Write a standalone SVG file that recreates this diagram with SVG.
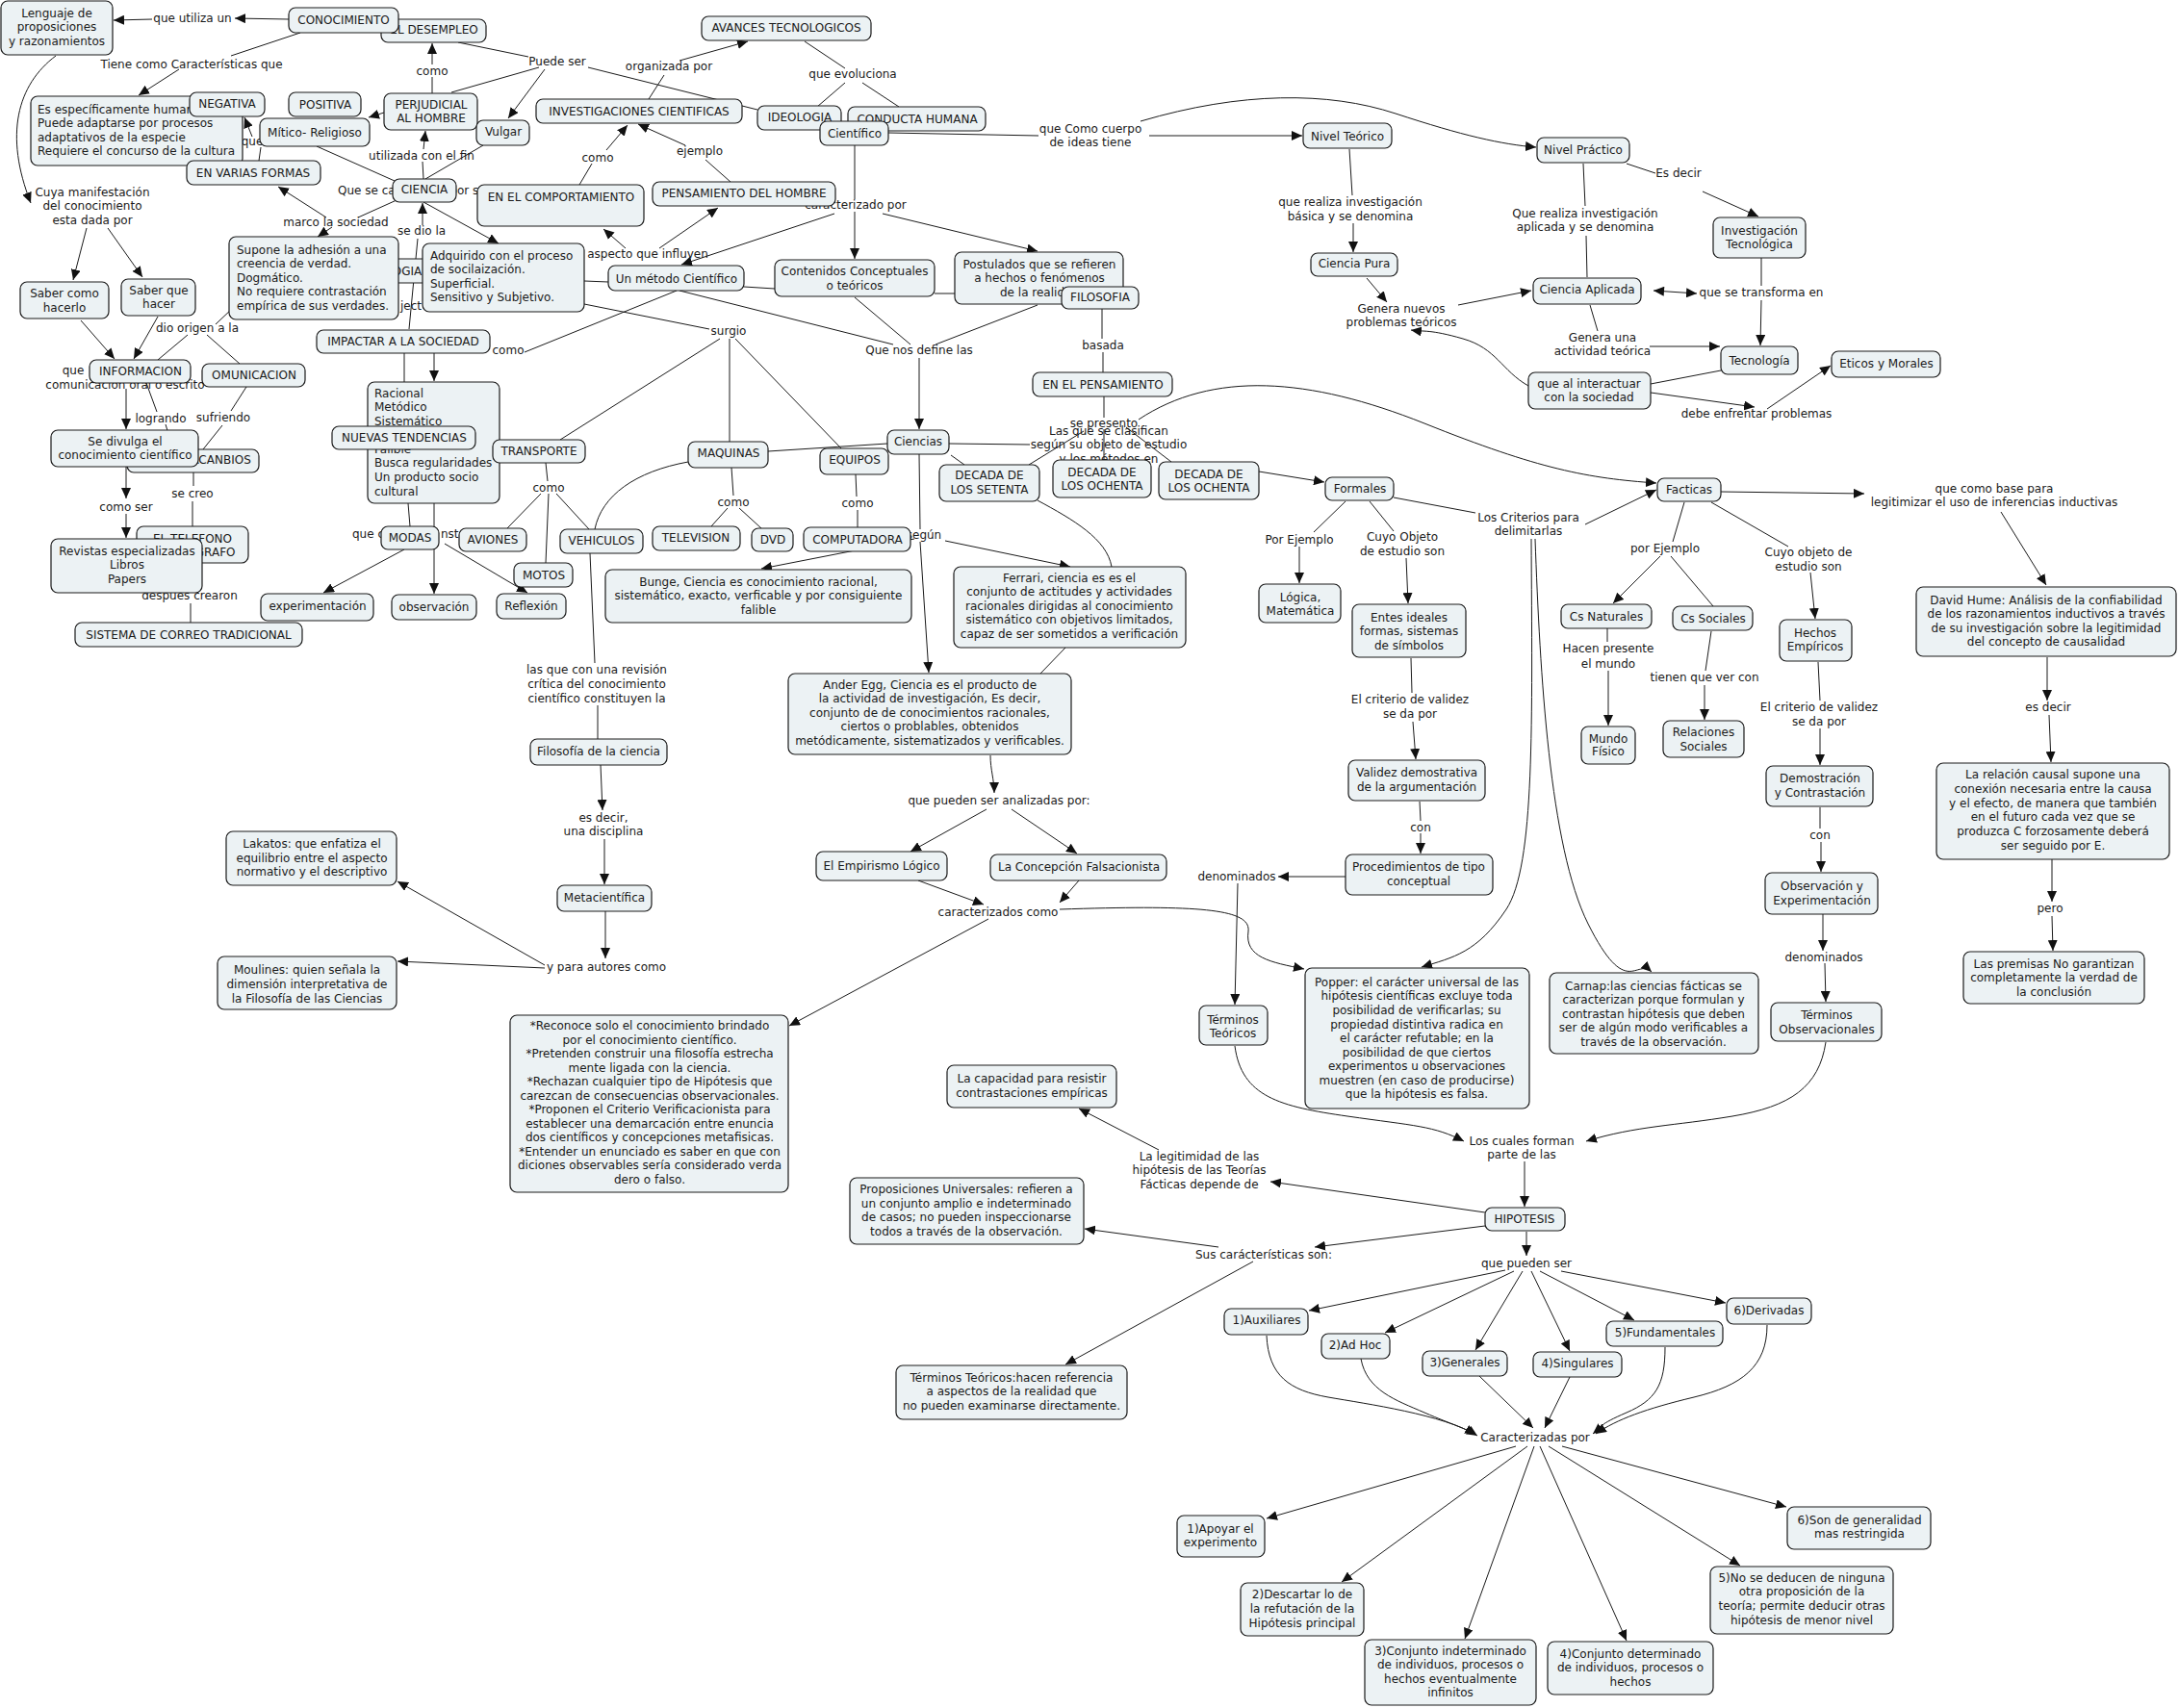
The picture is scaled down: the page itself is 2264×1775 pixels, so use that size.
<svg xmlns="http://www.w3.org/2000/svg" width="2264" height="1775" viewBox="0 0 2264 1775">
<defs>
<marker id="ah" markerUnits="userSpaceOnUse" markerWidth="12" markerHeight="10" refX="11" refY="5" orient="auto"><path d="M0,0 L11,5 L0,10 z" fill="#111"/></marker>
<marker id="as" markerUnits="userSpaceOnUse" markerWidth="12" markerHeight="10" refX="0" refY="5" orient="auto"><path d="M11,0 L0,5 L11,10 z" fill="#111"/></marker>
</defs>
<style>
text{font-family:"DejaVu Sans",Verdana,sans-serif;font-size:12px;fill:#1a1a1a}
.n{fill:#ecf2f4;stroke:#1a1a1a;stroke-width:1.2}
.c{fill:none;stroke:#1a1a1a;stroke-width:1}
.a{marker-end:url(#ah)}
.m{text-anchor:middle}
</style>
<rect width="2264" height="1775" fill="#fff"/>
<g id="connectors">
<path class="c a" d="M300,20 L244,19"/>
<path class="c a" d="M158,20 L118,21"/>
<path class="c" d="M312,34 L240,58"/>
<path class="c a" d="M186,72 L144,99"/>
<path class="c a" d="M58,58 C 18,88 4,140 32,211"/>
<path class="c a" d="M90,237 L76,291"/>
<path class="c a" d="M112,237 L148,288"/>
<path class="c a" d="M84,333 L119,373"/>
<path class="c a" d="M164,329 L139,373"/>
<path class="c" d="M195,348 L164,374"/>
<path class="c" d="M215,348 L249,378"/>
<path class="c" d="M224,337 L242,320"/>
<path class="c a" d="M131,404 L131,446"/>
<path class="c" d="M152,398 L163,428"/>
<path class="c" d="M172,441 L180,467"/>
<path class="c" d="M256,402 L240,427"/>
<path class="c" d="M231,442 L211,467"/>
<path class="c" d="M201,491 L201,505"/>
<path class="c" d="M200,521 L200,547"/>
<path class="c a" d="M131,485 L131,518"/>
<path class="c a" d="M131,534 L131,559"/>
<path class="c" d="M200,585 L198,612"/>
<path class="c" d="M198,627 L198,647"/>
<path class="c" d="M440,186 L439,168"/>
<path class="c a" d="M440,155 L442,136"/>
<path class="c" d="M449,97 L449,80"/>
<path class="c a" d="M449,67 L449,45"/>
<path class="c a" d="M399,117 L383,122"/>
<path class="c" d="M329,152 L410,188"/>
<path class="c" d="M502,151 L442,186"/>
<path class="c" d="M476,44 L549,59"/>
<path class="c" d="M469,96 L560,70"/>
<path class="c a" d="M566,72 L528,123"/>
<path class="c" d="M611,70 L787,114"/>
<path class="c" d="M269,167 L271,153"/>
<path class="c a" d="M262,142 L254,122"/>
<path class="c" d="M412,208 L372,226"/>
<path class="c a" d="M345,236 L330,246"/>
<path class="c a" d="M339,226 L289,194"/>
<path class="c a" d="M440,210 L518,253"/>
<path class="c a" d="M439,234 L439,211"/>
<path class="c" d="M434,248 L425,342"/>
<path class="c" d="M420,367 L420,397"/>
<path class="c" d="M424,523 L426,547"/>
<path class="c a" d="M451,367 L451,396"/>
<path class="c a" d="M451,523 L451,617"/>
<path class="c a" d="M420,571 L336,616"/>
<path class="c a" d="M462,565 L548,616"/>
<path class="c" d="M545,366 L703,302"/>
<path class="c" d="M674,103 L690,78"/>
<path class="c a" d="M706,63 L777,43"/>
<path class="c" d="M836,43 L878,71"/>
<path class="c" d="M878,86 L849,111"/>
<path class="c" d="M896,86 L934,111"/>
<path class="c" d="M602,192 L615,170"/>
<path class="c a" d="M630,156 L652,130"/>
<path class="c" d="M759,189 L733,166"/>
<path class="c a" d="M712,151 L663,129"/>
<path class="c" d="M888,151 L888,207"/>
<path class="c a" d="M888,220 L888,269"/>
<path class="c a" d="M867,222 L708,275"/>
<path class="c a" d="M917,222 L1078,261"/>
<path class="c a" d="M650,258 L627,238"/>
<path class="c a" d="M685,258 L746,216"/>
<path class="c" d="M607,292 L632,293"/>
<path class="c" d="M773,298 L805,300"/>
<path class="c" d="M971,305 L992,305"/>
<path class="c" d="M607,316 L737,342"/>
<path class="c" d="M748,352 L582,457"/>
<path class="c" d="M758,352 L758,459"/>
<path class="c" d="M764,352 L874,466"/>
<path class="c" d="M706,302 L928,358"/>
<path class="c" d="M888,309 L946,358"/>
<path class="c" d="M1078,317 L972,358"/>
<path class="c a" d="M955,372 L955,446"/>
<path class="c" d="M798,469 L922,461"/>
<path class="c" d="M760,486 L762,515"/>
<path class="c" d="M756,528 L739,547"/>
<path class="c" d="M768,528 L791,549"/>
<path class="c" d="M889,493 L890,516"/>
<path class="c" d="M891,530 L891,548"/>
<path class="c" d="M567,481 L569,500"/>
<path class="c" d="M562,513 L527,549"/>
<path class="c" d="M578,513 L612,550"/>
<path class="c" d="M570,513 L567,585"/>
<path class="c" d="M715,480 C 660,490 625,515 618,550"/>
<path class="c" d="M613,575 L618,689"/>
<path class="c" d="M955,472 L956,550"/>
<path class="c a" d="M950,560 L791,591"/>
<path class="c a" d="M982,562 L1112,589"/>
<path class="c a" d="M956,563 L965,699"/>
<path class="c" d="M1078,520 C 1115,540 1150,560 1155,589"/>
<path class="c" d="M1107,673 L1081,700"/>
<path class="c" d="M988,473 L1002,483"/>
<path class="c" d="M986,461 L1070,462"/>
<path class="c" d="M1069,483 L1126,448"/>
<path class="c" d="M1170,444 L1217,480"/>
<path class="c" d="M1145,321 L1145,352"/>
<path class="c" d="M1146,366 L1146,387"/>
<path class="c" d="M1147,412 L1147,434"/>
<path class="c" d="M1147,446 L1147,478"/>
<path class="c a" d="M1183,436 C 1260,385 1360,392 1480,440 S 1650,497 1721,502"/>
<path class="c a" d="M1308,490 L1376,501"/>
<path class="c" d="M1398,521 L1365,553"/>
<path class="c a" d="M1350,568 L1350,606"/>
<path class="c" d="M1423,521 L1448,552"/>
<path class="c a" d="M1461,580 L1463,627"/>
<path class="c" d="M1448,517 L1533,533"/>
<path class="c a" d="M1647,545 L1721,509"/>
<path class="c a" d="M1591,560 C 1592,750 1595,900 1565,945 S 1510,995 1477,1005"/>
<path class="c a" d="M1595,560 C 1600,700 1610,880 1650,960 S 1700,995 1716,1010"/>
<path class="c" d="M1466,684 L1467,720"/>
<path class="c a" d="M1468,750 L1471,789"/>
<path class="c" d="M1475,833 L1476,853"/>
<path class="c a" d="M1476,866 L1476,887"/>
<path class="c a" d="M1398,911 L1328,911"/>
<path class="c a" d="M1286,918 L1283,1044"/>
<path class="c a" d="M1283,1087 C 1290,1140 1330,1150 1400,1160 S 1490,1170 1521,1186"/>
<path class="c a" d="M954,915 L1022,940"/>
<path class="c a" d="M1121,915 L1101,938"/>
<path class="c a" d="M1101,945 C 1250,940 1300,945 1297,968 C 1293,995 1320,1000 1355,1007"/>
<path class="c a" d="M1027,955 L820,1066"/>
<path class="c a" d="M1029,785 C 1029,800 1033,810 1033,824"/>
<path class="c a" d="M1025,841 L946,885"/>
<path class="c a" d="M1051,841 L1119,887"/>
<path class="c" d="M621,733 L621,768"/>
<path class="c a" d="M624,795 L626,842"/>
<path class="c a" d="M628,872 L628,919"/>
<path class="c a" d="M629,947 L629,996"/>
<path class="c a" d="M566,1003 L413,916"/>
<path class="c a" d="M566,1006 L413,999"/>
<path class="c" d="M923,138 L1079,141"/>
<path class="c a" d="M1194,141 L1353,141"/>
<path class="c a" d="M1185,126 C 1290,95 1380,95 1450,118 S 1560,150 1596,153"/>
<path class="c" d="M1402,155 L1405,203"/>
<path class="c a" d="M1406,232 L1406,262"/>
<path class="c a" d="M1420,289 L1441,314"/>
<path class="c a" d="M1515,317 L1591,302"/>
<path class="c" d="M1645,170 L1647,214"/>
<path class="c" d="M1648,245 L1649,288"/>
<path class="c" d="M1690,170 L1720,180"/>
<path class="c a" d="M1769,199 L1827,225"/>
<path class="c a" d="M1718,302 L1763,305" style="marker-start:url(#as)"/>
<path class="c" d="M1830,268 L1830,297"/>
<path class="c a" d="M1830,312 L1829,359"/>
<path class="c" d="M1652,317 L1660,344"/>
<path class="c a" d="M1714,360 L1787,360"/>
<path class="c a" d="M1588,401 C 1560,385 1555,362 1520,352 S 1480,345 1466,343"/>
<path class="c" d="M1715,399 L1788,385"/>
<path class="c a" d="M1715,408 L1823,423"/>
<path class="c a" d="M1836,425 L1902,380"/>
<path class="c a" d="M1788,511 L1937,513"/>
<path class="c a" d="M2079,532 L2126,608"/>
<path class="c" d="M1750,522 L1738,563"/>
<path class="c a" d="M1725,578 L1676,627"/>
<path class="c" d="M1736,578 L1780,630"/>
<path class="c" d="M1778,522 L1858,568"/>
<path class="c a" d="M1881,595 L1886,643"/>
<path class="c" d="M1670,653 L1670,667"/>
<path class="c a" d="M1671,697 L1671,754"/>
<path class="c" d="M1778,656 L1772,697"/>
<path class="c a" d="M1771,712 L1771,748"/>
<path class="c" d="M1889,688 L1891,728"/>
<path class="c a" d="M1891,757 L1891,795"/>
<path class="c" d="M1891,839 L1891,861"/>
<path class="c a" d="M1892,875 L1892,906"/>
<path class="c a" d="M1894,950 L1894,988"/>
<path class="c a" d="M1896,1001 L1897,1041"/>
<path class="c a" d="M1897,1083 C 1890,1130 1860,1150 1800,1160 S 1700,1170 1648,1186"/>
<path class="c a" d="M2127,683 L2127,728"/>
<path class="c a" d="M2129,743 L2131,792"/>
<path class="c a" d="M2132,893 L2132,937"/>
<path class="c a" d="M2132,952 L2133,988"/>
<path class="c a" d="M1584,1207 L1584,1254"/>
<path class="c a" d="M1543,1260 L1320,1228"/>
<path class="c a" d="M1204,1195 L1121,1152"/>
<path class="c a" d="M1543,1274 L1366,1296"/>
<path class="c a" d="M1266,1296 L1127,1277"/>
<path class="c a" d="M1302,1311 L1107,1418"/>
<path class="c a" d="M1586,1280 L1586,1305"/>
<path class="c a" d="M1564,1320 L1360,1362"/>
<path class="c a" d="M1573,1321 L1439,1385"/>
<path class="c a" d="M1582,1321 L1533,1403"/>
<path class="c a" d="M1591,1321 L1631,1404"/>
<path class="c a" d="M1600,1321 L1698,1372"/>
<path class="c a" d="M1622,1321 L1793,1354"/>
<path class="c a" d="M1316,1388 C 1318,1430 1340,1445 1380,1452 S 1500,1470 1535,1492"/>
<path class="c a" d="M1414,1412 C 1420,1445 1450,1455 1480,1468 S 1520,1483 1533,1491"/>
<path class="c a" d="M1537,1430 L1593,1484"/>
<path class="c a" d="M1631,1431 L1605,1484"/>
<path class="c a" d="M1730,1400 C 1730,1440 1720,1455 1690,1468 S 1665,1482 1655,1490"/>
<path class="c a" d="M1836,1377 C 1836,1420 1810,1440 1760,1452 S 1680,1475 1658,1490"/>
<path class="c a" d="M1575,1503 L1316,1578"/>
<path class="c a" d="M1587,1503 L1394,1644"/>
<path class="c a" d="M1594,1503 L1522,1703"/>
<path class="c a" d="M1600,1503 L1690,1705"/>
<path class="c a" d="M1609,1503 L1808,1627"/>
<path class="c a" d="M1623,1503 L1856,1566"/>
<g id="link-labels">
<text class="m" x="200" y="23">que utiliza un</text>
<text class="m" x="199" y="71">Tiene como Características que</text>
<text class="m"><tspan x="96" y="204">Cuya manifestación</tspan><tspan x="96" y="218">del conocimiento</tspan><tspan x="96" y="233">esta dada por</tspan></text>
<text class="m" x="205" y="345">dio origen a la</text>
<text class="m" x="76" y="389">que</text>
<text class="m" x="130" y="404">comunicación oral o escrito</text>
<text class="m" x="167" y="439">logrando</text>
<text class="m" x="232" y="438">sufriendo</text>
<text class="m" x="200" y="517">se creo</text>
<text class="m" x="131" y="531">como ser</text>
<text class="m" x="197" y="623">despues crearon</text>
<text class="m" x="262" y="151">que</text>
<text class="m" x="449" y="78">como</text>
<text class="m" x="438" y="166">utilizada con el fin</text>
<text x="351" y="202">Que se caracteriza por su</text>
<text class="m" x="349" y="235">marco la sociedad</text>
<text class="m" x="438" y="244">se dio la</text>
<text class="m" x="427" y="322">ject</text>
<text class="m" x="528" y="368">como</text>
<text x="366" y="559">que c</text>
<text x="458" y="559">nst</text>
<text class="m" x="579" y="68">Puede ser</text>
<text class="m" x="695" y="73">organizada por</text>
<text class="m" x="886" y="81">que evoluciona</text>
<text class="m" x="621" y="168">como</text>
<text class="m" x="727" y="161">ejemplo</text>
<text class="m" x="889" y="217">caracterizado por</text>
<text class="m" x="673" y="268">aspecto que influyen</text>
<text class="m" x="757" y="348">surgio</text>
<text class="m" x="955" y="368">Que nos define las</text>
<text class="m" x="570" y="511">como</text>
<text class="m" x="762" y="526">como</text>
<text class="m" x="891" y="527">como</text>
<text class="m" x="960" y="560">según</text>
<text class="m"><tspan x="620" y="700">las que con una revisión</tspan><tspan x="620" y="715">crítica del conocimiento</tspan><tspan x="620" y="730">científico constituyen la</tspan></text>
<text class="m"><tspan x="627" y="854">es decir,</tspan><tspan x="627" y="868">una disciplina</tspan></text>
<text class="m" x="630" y="1009">y para autores como</text>
<text class="m" x="1038" y="836">que pueden ser analizadas por:</text>
<text class="m" x="1037" y="952">caracterizados como</text>
<text class="m"><tspan x="1133" y="138">que Como cuerpo</tspan><tspan x="1133" y="152">de ideas tiene</tspan></text>
<text class="m"><tspan x="1403" y="214">que realiza investigación</tspan><tspan x="1403" y="229">básica y se denomina</tspan></text>
<text class="m"><tspan x="1456" y="325">Genera nuevos</tspan><tspan x="1456" y="339">problemas teóricos</tspan></text>
<text class="m"><tspan x="1647" y="226">Que realiza investigación</tspan><tspan x="1647" y="240">aplicada y se denomina</tspan></text>
<text class="m" x="1744" y="184">Es decir</text>
<text class="m" x="1830" y="308">que se transforma en</text>
<text class="m"><tspan x="1665" y="355">Genera una</tspan><tspan x="1665" y="369">actividad teórica</tspan></text>
<text class="m" x="1825" y="434">debe enfrentar problemas</text>
<text class="m" x="1146" y="363">basada</text>
<text class="m" x="1147" y="444">se presento</text>
<text class="m"><tspan x="1152" y="452">Las que se clasifican</tspan><tspan x="1152" y="466">según su objeto de estudio</tspan><tspan x="1152" y="481">y los métodos en</tspan></text>
<text class="m" x="1350" y="565">Por Ejemplo</text>
<text class="m"><tspan x="1457" y="562">Cuyo Objeto</tspan><tspan x="1457" y="577">de estudio son</tspan></text>
<text class="m"><tspan x="1588" y="542">Los Criterios para</tspan><tspan x="1588" y="556">delimitarlas</tspan></text>
<text class="m"><tspan x="2072" y="512">que como base para</tspan><tspan x="2072" y="526">legitimizar el uso de inferencias inductivas</tspan></text>
<text class="m" x="1730" y="574">por Ejemplo</text>
<text class="m"><tspan x="1879" y="578">Cuyo objeto de</tspan><tspan x="1879" y="593">estudio son</tspan></text>
<text class="m"><tspan x="1671" y="678">Hacen presente</tspan><tspan x="1671" y="694">el mundo</tspan></text>
<text class="m" x="1771" y="708">tienen que ver con</text>
<text class="m"><tspan x="1465" y="731">El criterio de validez</tspan><tspan x="1465" y="746">se da por</tspan></text>
<text class="m" x="1476" y="864">con</text>
<text class="m" x="1285" y="915">denominados</text>
<text class="m"><tspan x="1890" y="739">El criterio de validez</tspan><tspan x="1890" y="754">se da por</tspan></text>
<text class="m" x="1891" y="872">con</text>
<text class="m" x="1895" y="999">denominados</text>
<text class="m" x="2128" y="739">es decir</text>
<text class="m" x="2130" y="948">pero</text>
<text class="m"><tspan x="1581" y="1190">Los cuales forman</tspan><tspan x="1581" y="1204">parte de las</tspan></text>
<text class="m"><tspan x="1246" y="1206">La legitimidad de las</tspan><tspan x="1246" y="1220">hipótesis de las Teorías</tspan><tspan x="1246" y="1235">Fácticas depende de</tspan></text>
<text class="m" x="1313" y="1308">Sus carácterísticas son:</text>
<text class="m" x="1586" y="1317">que pueden ser</text>
<text class="m" x="1595" y="1498">Caracterizadas por</text>
</g>
</g>
<g id="n-lenguaje"><rect class="n" x="1" y="1" width="116" height="56" rx="7"/><text class="m"><tspan x="59" y="18">Lenguaje de</tspan><tspan x="59" y="32">proposiciones</tspan><tspan x="59" y="47">y razonamientos</tspan></text></g>
<g id="n-desempleo"><rect class="n" x="396" y="20" width="109" height="24" rx="7"/><text class="m" x="451" y="35">EL DESEMPLEO</text></g>
<g id="n-conocimiento"><rect class="n" x="300" y="8" width="114" height="26" rx="7"/><text class="m" x="357" y="25">CONOCIMIENTO</text></g>
<g id="n-caracteristicas"><rect class="n" x="32" y="100" width="220" height="72" rx="7"/><text><tspan x="39" y="118">Es específicamente humano</tspan><tspan x="39" y="132">Puede adaptarse por procesos</tspan><tspan x="39" y="147">adaptativos de la especie</tspan><tspan x="39" y="161">Requiere el concurso de la cultura</tspan></text></g>
<g id="n-negativa"><rect class="n" x="197" y="96" width="78" height="25" rx="7"/><text class="m" x="236" y="112">NEGATIVA</text></g>
<g id="n-positiva"><rect class="n" x="300" y="96" width="75" height="25" rx="7"/><text class="m" x="338" y="113">POSITIVA</text></g>
<g id="n-perjudicial"><rect class="n" x="399" y="97" width="97" height="38" rx="7"/><text class="m"><tspan x="448" y="113">PERJUDICIAL</tspan><tspan x="448" y="127">AL HOMBRE</tspan></text></g>
<g id="n-mitico"><rect class="n" x="270" y="123" width="114" height="29" rx="7"/><text class="m" x="327" y="142">Mítico- Religioso</text></g>
<g id="n-vulgar"><rect class="n" x="495" y="125" width="55" height="26" rx="7"/><text class="m" x="523" y="141">Vulgar</text></g>
<g id="n-varias-formas"><rect class="n" x="194" y="167" width="139" height="25" rx="7"/><text class="m" x="263" y="184">EN VARIAS FORMAS</text></g>
<g id="n-ciencia"><rect class="n" x="408" y="186" width="66" height="24" rx="7"/><text class="m" x="441" y="201">CIENCIA</text></g>
<g id="n-comportamiento"><rect class="n" x="496" y="192" width="173" height="43" rx="7"/><text class="m" x="583" y="209">EN EL COMPORTAMIENTO</text></g>
<g id="n-tecnologia"><rect class="n" x="344" y="269" width="110" height="25" rx="7"/><text class="m" x="399" y="286">TECNOLOGIA</text></g>
<g id="n-supone"><rect class="n" x="238" y="246" width="176" height="86" rx="7"/><text><tspan x="246" y="264">Supone la adhesión a una</tspan><tspan x="246" y="278">creencia de verdad.</tspan><tspan x="246" y="293">Dogmático.</tspan><tspan x="246" y="307">No requiere contrastación</tspan><tspan x="246" y="322">empírica de sus verdades.</tspan></text></g>
<g id="n-adquirido"><rect class="n" x="439" y="253" width="168" height="71" rx="7"/><text><tspan x="447" y="270">Adquirido con el proceso</tspan><tspan x="447" y="284">de socilaización.</tspan><tspan x="447" y="299">Superficial.</tspan><tspan x="447" y="313">Sensitivo y Subjetivo.</tspan></text></g>
<g id="n-impactar"><rect class="n" x="329" y="343" width="180" height="24" rx="7"/><text class="m" x="419" y="359">IMPACTAR A LA SOCIEDAD</text></g>
<g id="n-racional"><rect class="n" x="382" y="397" width="137" height="126" rx="7"/><text><tspan x="389" y="413">Racional</tspan><tspan x="389" y="427">Metódico</tspan><tspan x="389" y="442">Sistemático</tspan><tspan x="389" y="471">Falible</tspan><tspan x="389" y="485">Busca regularidades</tspan><tspan x="389" y="500">Un producto socio</tspan><tspan x="389" y="515">cultural</tspan></text></g>
<g id="n-nuevas"><rect class="n" x="345" y="443" width="149" height="24" rx="7"/><text class="m" x="420" y="459">NUEVAS TENDENCIAS</text></g>
<g id="n-transporte"><rect class="n" x="512" y="457" width="96" height="24" rx="7"/><text class="m" x="560" y="473">TRANSPORTE</text></g>
<g id="n-saber-como"><rect class="n" x="21" y="293" width="92" height="38" rx="7"/><text class="m"><tspan x="67" y="309">Saber como</tspan><tspan x="67" y="324">hacerlo</tspan></text></g>
<g id="n-saber-que"><rect class="n" x="126" y="290" width="77" height="38" rx="7"/><text class="m"><tspan x="165" y="306">Saber que</tspan><tspan x="165" y="320">hacer</tspan></text></g>
<g id="n-informacion"><rect class="n" x="93" y="374" width="105" height="24" rx="7"/><text class="m" x="146" y="390">INFORMACION</text></g>
<g id="n-comunicacion"><rect class="n" x="210" y="378" width="107" height="24" rx="7"/><text class="m" x="264" y="394">OMUNICACION</text></g>
<g id="n-intercanbios"><rect class="n" x="132" y="467" width="137" height="24" rx="7"/><text class="m" x="216" y="482">INTERCANBIOS</text></g>
<g id="n-divulga"><rect class="n" x="53" y="447" width="153" height="38" rx="7"/><text class="m"><tspan x="130" y="463">Se divulga el</tspan><tspan x="130" y="477">conocimiento científico</tspan></text></g>
<g id="n-telefono"><rect class="n" x="142" y="547" width="116" height="38" rx="7"/><text class="m"><tspan x="200" y="564">EL TELEFONO</tspan><tspan x="200" y="578">EL TELEGRAFO</tspan></text></g>
<g id="n-revistas"><rect class="n" x="53" y="560" width="157" height="56" rx="7"/><text class="m"><tspan x="132" y="577">Revistas especializadas</tspan><tspan x="132" y="591">Libros</tspan><tspan x="132" y="606">Papers</tspan></text></g>
<g id="n-sistema"><rect class="n" x="78" y="647" width="236" height="25" rx="7"/><text class="m" x="196" y="664">SISTEMA DE CORREO TRADICIONAL</text></g>
<g id="n-modas"><rect class="n" x="396" y="547" width="60" height="24" rx="7"/><text class="m" x="426" y="563">MODAS</text></g>
<g id="n-aviones"><rect class="n" x="477" y="549" width="70" height="24" rx="7"/><text class="m" x="512" y="565">AVIONES</text></g>
<g id="n-motos"><rect class="n" x="534" y="585" width="61" height="25" rx="7"/><text class="m" x="565" y="602">MOTOS</text></g>
<g id="n-experimentacion"><rect class="n" x="271" y="617" width="117" height="28" rx="7"/><text class="m" x="330" y="634">experimentación</text></g>
<g id="n-observacion"><rect class="n" x="407" y="618" width="88" height="26" rx="7"/><text class="m" x="451" y="635">observación</text></g>
<g id="n-reflexion"><rect class="n" x="516" y="617" width="72" height="26" rx="7"/><text class="m" x="552" y="634">Reflexión</text></g>
<g id="n-avances"><rect class="n" x="729" y="17" width="176" height="25" rx="7"/><text class="m" x="817" y="33">AVANCES TECNOLOGICOS</text></g>
<g id="n-investigaciones"><rect class="n" x="557" y="103" width="214" height="25" rx="7"/><text class="m" x="664" y="120">INVESTIGACIONES CIENTIFICAS</text></g>
<g id="n-ideologia"><rect class="n" x="787" y="110" width="87" height="25" rx="7"/><text class="m" x="831" y="126">IDEOLOGIA</text></g>
<g id="n-conducta"><rect class="n" x="881" y="111" width="143" height="25" rx="7"/><text class="m" x="953" y="128">CONDUCTA HUMANA</text></g>
<g id="n-cientifico"><rect class="n" x="852" y="126" width="71" height="25" rx="7"/><text class="m" x="888" y="143">Científico</text></g>
<g id="n-pensamiento-hombre"><rect class="n" x="678" y="189" width="190" height="25" rx="7"/><text class="m" x="773" y="205">PENSAMIENTO DEL HOMBRE</text></g>
<g id="n-metodo"><rect class="n" x="632" y="276" width="141" height="26" rx="7"/><text class="m" x="703" y="294">Un método Científico</text></g>
<g id="n-contenidos"><rect class="n" x="805" y="270" width="166" height="38" rx="7"/><text class="m"><tspan x="888" y="286">Contenidos Conceptuales</tspan><tspan x="888" y="301">o teóricos</tspan></text></g>
<g id="n-postulados"><rect class="n" x="992" y="262" width="175" height="54" rx="7"/><text class="m"><tspan x="1080" y="279">Postulados que se refieren</tspan><tspan x="1080" y="293">a hechos o fenómenos</tspan><tspan x="1080" y="308">de la realidad</tspan></text></g>
<g id="n-filosofia"><rect class="n" x="1103" y="298" width="80" height="23" rx="7"/><text class="m" x="1143" y="313">FILOSOFIA</text></g>
<g id="n-en-el-pensamiento"><rect class="n" x="1073" y="387" width="145" height="25" rx="7"/><text class="m" x="1146" y="404">EN EL PENSAMIENTO</text></g>
<g id="n-ciencias"><rect class="n" x="922" y="447" width="64" height="25" rx="7"/><text class="m" x="954" y="463">Ciencias</text></g>
<g id="n-maquinas"><rect class="n" x="715" y="459" width="83" height="27" rx="7"/><text class="m" x="757" y="475">MAQUINAS</text></g>
<g id="n-equipos"><rect class="n" x="852" y="466" width="71" height="27" rx="7"/><text class="m" x="888" y="482">EQUIPOS</text></g>
<g id="n-setenta"><rect class="n" x="976" y="483" width="104" height="38" rx="7"/><text class="m"><tspan x="1028" y="498">DECADA DE</tspan><tspan x="1028" y="513">LOS SETENTA</tspan></text></g>
<g id="n-ochenta1"><rect class="n" x="1094" y="478" width="102" height="39" rx="7"/><text class="m"><tspan x="1145" y="495">DECADA DE</tspan><tspan x="1145" y="509">LOS OCHENTA</tspan></text></g>
<g id="n-ochenta2"><rect class="n" x="1204" y="480" width="104" height="39" rx="7"/><text class="m"><tspan x="1256" y="497">DECADA DE</tspan><tspan x="1256" y="511">LOS OCHENTA</tspan></text></g>
<g id="n-television"><rect class="n" x="678" y="547" width="91" height="25" rx="7"/><text class="m" x="723" y="563">TELEVISION</text></g>
<g id="n-dvd"><rect class="n" x="781" y="549" width="43" height="24" rx="7"/><text class="m" x="803" y="565">DVD</text></g>
<g id="n-computadora"><rect class="n" x="835" y="548" width="111" height="25" rx="7"/><text class="m" x="891" y="565">COMPUTADORA</text></g>
<g id="n-vehiculos"><rect class="n" x="582" y="550" width="86" height="25" rx="7"/><text class="m" x="625" y="566">VEHICULOS</text></g>
<g id="n-bunge"><rect class="n" x="629" y="592" width="318" height="55" rx="7"/><text class="m"><tspan x="788" y="609">Bunge, Ciencia es conocimiento racional,</tspan><tspan x="788" y="623">sistemático, exacto, verficable y por consiguiente</tspan><tspan x="788" y="638">falible</tspan></text></g>
<g id="n-ferrari"><rect class="n" x="991" y="589" width="241" height="84" rx="7"/><text class="m"><tspan x="1111" y="605">Ferrari, ciencia es es el</tspan><tspan x="1111" y="619">conjunto de actitudes y actividades</tspan><tspan x="1111" y="634">racionales dirigidas al conocimiento</tspan><tspan x="1111" y="648">sistemático con objetivos limitados,</tspan><tspan x="1111" y="663">capaz de ser sometidos a verificación</tspan></text></g>
<g id="n-ander"><rect class="n" x="819" y="700" width="294" height="84" rx="7"/><text class="m"><tspan x="966" y="716">Ander Egg, Ciencia es el producto de</tspan><tspan x="966" y="730">la actividad de investigación, Es decir,</tspan><tspan x="966" y="745">conjunto de de conocimientos racionales,</tspan><tspan x="966" y="759">ciertos o problables, obtenidos</tspan><tspan x="966" y="774">metódicamente, sistematizados y verificables.</tspan></text></g>
<g id="n-empirismo"><rect class="n" x="848" y="885" width="136" height="30" rx="7"/><text class="m" x="916" y="904">El Empirismo Lógico</text></g>
<g id="n-concepcion"><rect class="n" x="1029" y="888" width="183" height="27" rx="7"/><text class="m" x="1121" y="905">La Concepción Falsacionista</text></g>
<g id="n-reconoce"><rect class="n" x="530" y="1055" width="289" height="184" rx="7"/><text class="m"><tspan x="675" y="1070">*Reconoce solo el conocimiento  brindado</tspan><tspan x="675" y="1085">por el conocimiento científico.</tspan><tspan x="675" y="1099">*Pretenden construir una filosofía estrecha</tspan><tspan x="675" y="1114">mente ligada con la ciencia.</tspan><tspan x="675" y="1128">*Rechazan cualquier tipo de Hipótesis que</tspan><tspan x="675" y="1143">carezcan de consecuencias observacionales.</tspan><tspan x="675" y="1157">*Proponen el Criterio Verificacionista para</tspan><tspan x="675" y="1172">establecer una demarcación entre enuncia</tspan><tspan x="675" y="1186">dos científicos y concepciones metafisicas.</tspan><tspan x="675" y="1201">*Entender un enunciado es saber en que con</tspan><tspan x="675" y="1215">diciones observables sería considerado verda</tspan><tspan x="675" y="1230">dero o falso.</tspan></text></g>
<g id="n-filosofia-ciencia"><rect class="n" x="551" y="768" width="142" height="27" rx="7"/><text class="m" x="622" y="785">Filosofía de la ciencia</text></g>
<g id="n-metacientifica"><rect class="n" x="579" y="920" width="98" height="27" rx="7"/><text class="m" x="628" y="937">Metacientífica</text></g>
<g id="n-lakatos"><rect class="n" x="235" y="864" width="177" height="56" rx="7"/><text class="m"><tspan x="324" y="881">Lakatos: que enfatiza el</tspan><tspan x="324" y="896">equilibrio entre el aspecto</tspan><tspan x="324" y="910">normativo y el descriptivo</tspan></text></g>
<g id="n-moulines"><rect class="n" x="226" y="994" width="186" height="55" rx="7"/><text class="m"><tspan x="319" y="1012">Moulines: quien señala la</tspan><tspan x="319" y="1027">dimensión interpretativa de</tspan><tspan x="319" y="1042">la Filosofía de las Ciencias</tspan></text></g>
<g id="n-nivel-teorico"><rect class="n" x="1354" y="128" width="92" height="26" rx="7"/><text class="m" x="1400" y="146">Nivel Teórico</text></g>
<g id="n-nivel-practico"><rect class="n" x="1597" y="143" width="96" height="26" rx="7"/><text class="m" x="1645" y="160">Nivel Práctico</text></g>
<g id="n-ciencia-pura"><rect class="n" x="1362" y="263" width="90" height="24" rx="7"/><text class="m" x="1407" y="278">Ciencia Pura</text></g>
<g id="n-ciencia-aplicada"><rect class="n" x="1593" y="289" width="112" height="27" rx="7"/><text class="m" x="1649" y="305">Ciencia Aplicada</text></g>
<g id="n-inv-tecnologica"><rect class="n" x="1780" y="226" width="96" height="42" rx="7"/><text class="m"><tspan x="1828" y="244">Investigación</tspan><tspan x="1828" y="258">Tecnológica</tspan></text></g>
<g id="n-tecnologia2"><rect class="n" x="1788" y="360" width="80" height="29" rx="7"/><text class="m" x="1828" y="379">Tecnología</text></g>
<g id="n-interactuar"><rect class="n" x="1588" y="387" width="127" height="38" rx="7"/><text class="m"><tspan x="1651" y="403">que al interactuar</tspan><tspan x="1651" y="417">con la sociedad</tspan></text></g>
<g id="n-eticos"><rect class="n" x="1903" y="365" width="113" height="27" rx="7"/><text class="m" x="1960" y="382">Eticos y Morales</text></g>
<g id="n-formales"><rect class="n" x="1377" y="496" width="71" height="24" rx="7"/><text class="m" x="1413" y="512">Formales</text></g>
<g id="n-logica"><rect class="n" x="1308" y="607" width="85" height="40" rx="7"/><text class="m"><tspan x="1351" y="625">Lógica,</tspan><tspan x="1351" y="639">Matemática</tspan></text></g>
<g id="n-entes"><rect class="n" x="1405" y="628" width="118" height="55" rx="7"/><text class="m"><tspan x="1464" y="646">Entes ideales</tspan><tspan x="1464" y="660">formas, sistemas</tspan><tspan x="1464" y="675">de símbolos</tspan></text></g>
<g id="n-validez"><rect class="n" x="1401" y="790" width="142" height="42" rx="7"/><text class="m"><tspan x="1472" y="807">Validez demostrativa</tspan><tspan x="1472" y="822">de la argumentación</tspan></text></g>
<g id="n-procedimientos"><rect class="n" x="1398" y="888" width="153" height="42" rx="7"/><text class="m"><tspan x="1474" y="905">Procedimientos de tipo</tspan><tspan x="1474" y="920">conceptual</tspan></text></g>
<g id="n-terminos-teoricos"><rect class="n" x="1246" y="1045" width="71" height="41" rx="7"/><text class="m"><tspan x="1281" y="1064">Términos</tspan><tspan x="1281" y="1078">Teóricos</tspan></text></g>
<g id="n-popper"><rect class="n" x="1356" y="1006" width="233" height="146" rx="7"/><text class="m"><tspan x="1472" y="1025">Popper: el carácter universal de las</tspan><tspan x="1472" y="1039">hipótesis científicas excluye toda</tspan><tspan x="1472" y="1054">posibilidad de verificarlas; su</tspan><tspan x="1472" y="1069">propiedad distintiva radica en</tspan><tspan x="1472" y="1083">el carácter refutable; en la</tspan><tspan x="1472" y="1098">posibilidad de que  ciertos</tspan><tspan x="1472" y="1112">experimentos u observaciones</tspan><tspan x="1472" y="1127">muestren (en caso de producirse)</tspan><tspan x="1472" y="1141">que la hipótesis es falsa.</tspan></text></g>
<g id="n-carnap"><rect class="n" x="1610" y="1011" width="217" height="84" rx="7"/><text class="m"><tspan x="1718" y="1029">Carnap:las ciencias fácticas se</tspan><tspan x="1718" y="1043">caracterizan porque formulan y</tspan><tspan x="1718" y="1058">contrastan hipótesis que deben</tspan><tspan x="1718" y="1072">ser de algún modo verificables a</tspan><tspan x="1718" y="1087">través de la observación.</tspan></text></g>
<g id="n-capacidad"><rect class="n" x="984" y="1107" width="176" height="44" rx="7"/><text class="m"><tspan x="1072" y="1125">La capacidad para resistir</tspan><tspan x="1072" y="1140">contrastaciones empíricas</tspan></text></g>
<g id="n-facticas"><rect class="n" x="1722" y="497" width="66" height="24" rx="7"/><text class="m" x="1755" y="513">Facticas</text></g>
<g id="n-cs-naturales"><rect class="n" x="1622" y="628" width="94" height="25" rx="7"/><text class="m" x="1669" y="645">Cs Naturales</text></g>
<g id="n-cs-sociales"><rect class="n" x="1738" y="630" width="83" height="25" rx="7"/><text class="m" x="1780" y="647">Cs Sociales</text></g>
<g id="n-mundo"><rect class="n" x="1643" y="755" width="56" height="39" rx="7"/><text class="m"><tspan x="1671" y="772">Mundo</tspan><tspan x="1671" y="785">Físico</tspan></text></g>
<g id="n-relaciones"><rect class="n" x="1728" y="749" width="84" height="38" rx="7"/><text class="m"><tspan x="1770" y="765">Relaciones</tspan><tspan x="1770" y="780">Sociales</tspan></text></g>
<g id="n-hechos"><rect class="n" x="1849" y="644" width="75" height="43" rx="7"/><text class="m"><tspan x="1886" y="662">Hechos</tspan><tspan x="1886" y="676">Empíricos</tspan></text></g>
<g id="n-demostracion"><rect class="n" x="1835" y="796" width="111" height="42" rx="7"/><text class="m"><tspan x="1891" y="813">Demostración</tspan><tspan x="1891" y="828">y Contrastación</tspan></text></g>
<g id="n-observacion-exp"><rect class="n" x="1834" y="907" width="117" height="43" rx="7"/><text class="m"><tspan x="1893" y="925">Observación y</tspan><tspan x="1893" y="940">Experimentación</tspan></text></g>
<g id="n-terminos-obs"><rect class="n" x="1840" y="1042" width="115" height="40" rx="7"/><text class="m"><tspan x="1898" y="1059">Términos</tspan><tspan x="1898" y="1074">Observacionales</tspan></text></g>
<g id="n-hume"><rect class="n" x="1991" y="610" width="270" height="72" rx="7"/><text class="m"><tspan x="2126" y="628">David Hume: Análisis de la confiabilidad</tspan><tspan x="2126" y="642">de los razonamientos inductivos a través</tspan><tspan x="2126" y="657">de su investigación sobre la legitimidad</tspan><tspan x="2126" y="671">del concepto de causalidad</tspan></text></g>
<g id="n-relacion"><rect class="n" x="2012" y="793" width="242" height="100" rx="7"/><text class="m"><tspan x="2133" y="809">La relación causal supone una</tspan><tspan x="2133" y="824">conexión necesaria entre la causa</tspan><tspan x="2133" y="839">y el efecto, de manera  que también</tspan><tspan x="2133" y="853">en el futuro cada vez que se</tspan><tspan x="2133" y="868">produzca C forzosamente deberá</tspan><tspan x="2133" y="883">ser seguido por E.</tspan></text></g>
<g id="n-premisas"><rect class="n" x="2040" y="989" width="188" height="54" rx="7"/><text class="m"><tspan x="2134" y="1006">Las premisas No garantizan</tspan><tspan x="2134" y="1020">completamente la verdad de</tspan><tspan x="2134" y="1035">la conclusión</tspan></text></g>
<g id="n-hipotesis"><rect class="n" x="1543" y="1255" width="83" height="24" rx="7"/><text class="m" x="1584" y="1271">HIPOTESIS</text></g>
<g id="n-proposiciones"><rect class="n" x="883" y="1224" width="243" height="69" rx="7"/><text class="m"><tspan x="1004" y="1240">Proposiciones Universales: refieren a</tspan><tspan x="1004" y="1255">un conjunto amplio e indeterminado</tspan><tspan x="1004" y="1269">de casos; no pueden inspeccionarse</tspan><tspan x="1004" y="1284">todos a través de la observación.</tspan></text></g>
<g id="n-terminos-hacen"><rect class="n" x="931" y="1419" width="240" height="56" rx="7"/><text class="m"><tspan x="1051" y="1436">Términos Teóricos:hacen referencia</tspan><tspan x="1051" y="1450">a aspectos de la realidad que</tspan><tspan x="1051" y="1465">no pueden examinarse directamente.</tspan></text></g>
<g id="n-auxiliares"><rect class="n" x="1272" y="1360" width="87" height="27" rx="7"/><text class="m" x="1316" y="1376">1)Auxiliares</text></g>
<g id="n-adhoc"><rect class="n" x="1373" y="1386" width="71" height="26" rx="7"/><text class="m" x="1408" y="1402">2)Ad Hoc</text></g>
<g id="n-generales"><rect class="n" x="1478" y="1404" width="88" height="26" rx="7"/><text class="m" x="1522" y="1420">3)Generales</text></g>
<g id="n-singulares"><rect class="n" x="1593" y="1405" width="92" height="26" rx="7"/><text class="m" x="1639" y="1421">4)Singulares</text></g>
<g id="n-fundamentales"><rect class="n" x="1669" y="1373" width="121" height="26" rx="7"/><text class="m" x="1730" y="1389">5)Fundamentales</text></g>
<g id="n-derivadas"><rect class="n" x="1794" y="1349" width="88" height="27" rx="7"/><text class="m" x="1838" y="1366">6)Derivadas</text></g>
<g id="n-apoyar"><rect class="n" x="1223" y="1575" width="91" height="43" rx="7"/><text class="m"><tspan x="1268" y="1593">1)Apoyar el</tspan><tspan x="1268" y="1607">experimento</tspan></text></g>
<g id="n-descartar"><rect class="n" x="1289" y="1645" width="128" height="55" rx="7"/><text class="m"><tspan x="1353" y="1661">2)Descartar lo de</tspan><tspan x="1353" y="1676">la refutación de la</tspan><tspan x="1353" y="1691">Hipótesis principal</tspan></text></g>
<g id="n-conj-indet"><rect class="n" x="1418" y="1704" width="178" height="68" rx="7"/><text class="m"><tspan x="1507" y="1720">3)Conjunto indeterminado</tspan><tspan x="1507" y="1734">de individuos, procesos o</tspan><tspan x="1507" y="1749">hechos eventualmente</tspan><tspan x="1507" y="1763">infinitos</tspan></text></g>
<g id="n-conj-det"><rect class="n" x="1608" y="1706" width="172" height="55" rx="7"/><text class="m"><tspan x="1694" y="1723">4)Conjunto determinado</tspan><tspan x="1694" y="1737">de individuos, procesos o</tspan><tspan x="1694" y="1752">hechos</tspan></text></g>
<g id="n-no-deducen"><rect class="n" x="1777" y="1628" width="190" height="70" rx="7"/><text class="m"><tspan x="1872" y="1644">5)No se deducen de ninguna</tspan><tspan x="1872" y="1658">otra proposición de la</tspan><tspan x="1872" y="1673">teoría; permite deducir otras</tspan><tspan x="1872" y="1688">hipótesis de menor nivel</tspan></text></g>
<g id="n-generalidad"><rect class="n" x="1857" y="1566" width="149" height="44" rx="7"/><text class="m"><tspan x="1932" y="1584">6)Son de generalidad</tspan><tspan x="1932" y="1598">mas restringida</tspan></text></g>
</svg>
